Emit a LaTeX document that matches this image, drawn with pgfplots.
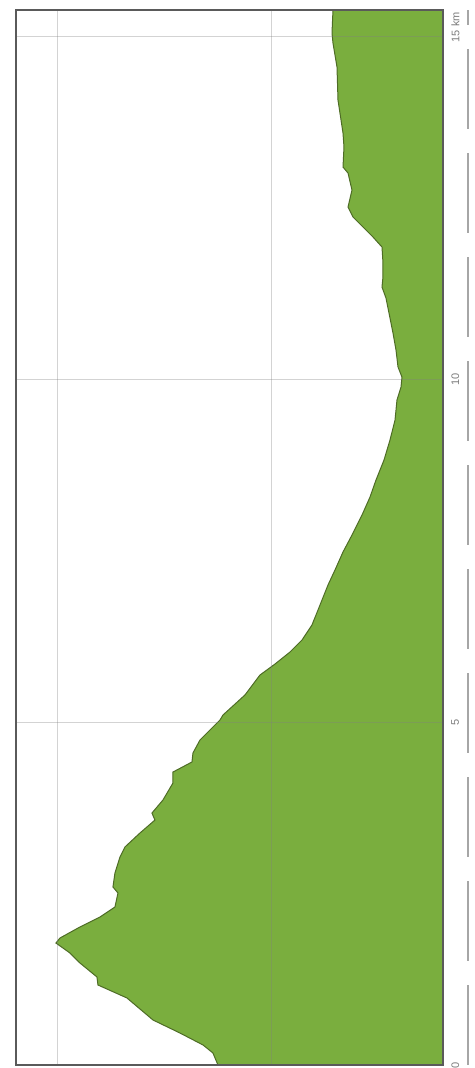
\documentclass[border=0pt]{standalone}
\usepackage{pgfplots}
\pgfplotsset{compat=1.18}
\usepackage{fontspec}
\setmainfont{Liberation Sans}
\usetikzlibrary{calc}
\definecolor{fillgreen}{RGB}{122,174,62}
\definecolor{edgegreen}{RGB}{78,108,38}
\definecolor{framegray}{RGB}{90,90,90}
\definecolor{labelgray}{RGB}{125,125,125}
\begin{document}
\begin{tikzpicture}
\begin{axis}[
  scale only axis, width=213.5pt, height=527.5pt,
  x dir=reverse, xmin=100.5, xmax=1098, ymin=0, ymax=15.38,
  xtick={500,1000}, xticklabel=\empty,
  ytick={0,5,10,15}, yticklabels={0,5,10,15\rlap{ km}},
  ytick pos=upper,
  major tick length=0pt,
  grid=major, grid style={gray, opacity=0.35, line width=0.5pt},
  axis on top,
  axis line style={framegray, line width=0.75pt},
  yticklabel style={rotate=90, anchor=north, inner sep=0pt,
    font=\fontsize{5.5}{6}\selectfont, text=labelgray},
  yticklabel shift=4pt,
]
\addplot[draw=edgegreen, line width=0.5pt, fill=fillgreen] coordinates {
(100.5,0)
(626.2,0.000) (637.9,0.175) (661.2,0.292) (715.0,0.466) (778.0,0.656)
(838.8,0.977) (906.5,1.166) (908.9,1.283) (948.6,1.487) (972.0,1.633)
(1004.7,1.778) (995.3,1.851) (948.6,2.012) (901.9,2.157) (866.8,2.303)
(859.8,2.507) (871.5,2.595) (866.8,2.799) (855.1,3.032) (843.5,3.178)
(808.4,3.382) (773.4,3.571) (780.4,3.673) (754.7,3.863) (731.3,4.111)
(731.3,4.271) (686.9,4.417) (684.6,4.548) (668.2,4.738) (621.5,5.029)
(614.5,5.102) (563.1,5.394) (528.1,5.685) (493.0,5.845) (458.0,6.020)
(429.9,6.195) (406.6,6.414) (392.5,6.633) (383.2,6.778) (369.2,6.997)
(352.8,7.216) (334.1,7.478) (313.1,7.726) (289.7,8.017) (271.0,8.280)
(257.0,8.528) (238.3,8.819) (224.3,9.111) (212.6,9.402) (208.0,9.694)
(198.6,9.883) (196.3,10.029) (205.6,10.175) (210.3,10.423) (217.3,10.671)
(233.7,11.181) (243.0,11.341) (240.7,11.487) (240.7,11.691) (243.0,11.924)
(264.0,12.070) (287.4,12.216) (310.8,12.362) (322.4,12.507) (313.1,12.755)
(322.4,13.003) (334.1,13.090) (331.8,13.382) (334.1,13.586) (345.8,14.067)
(348.1,14.548) (357.5,14.898) (359.8,15.044) (357.5,15.379)
(100.5,15.379)
} -- cycle;
\end{axis}
\draw[gray!70, line width=0.6pt, dash pattern=on 40pt off 12pt]
  ($(current axis.south east)+(12.5pt,0)$) -- ($(current axis.north east)+(12.5pt,0)$);
\pgfresetboundingbox
\path ($(current axis.south west)+(-8pt,-1.5pt)$) rectangle ($(current axis.north east)+(16pt,5pt)$);
\end{tikzpicture}
\end{document}
